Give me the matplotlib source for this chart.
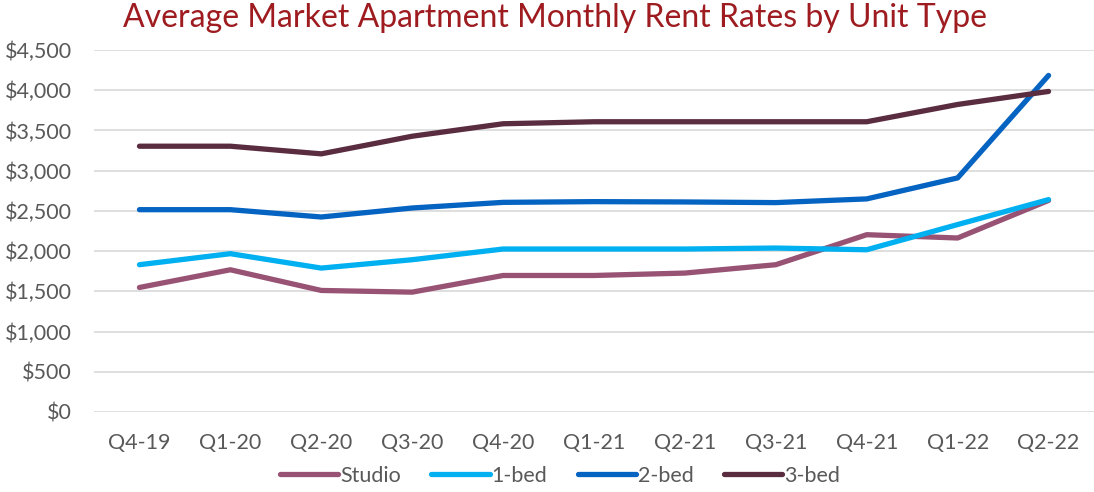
import matplotlib
matplotlib.use("Agg")
import matplotlib.pyplot as plt
from matplotlib.ticker import FuncFormatter

plt.rcParams['font.family'] = ['Lato', 'DejaVu Sans']

quarters = ['Q4-19', 'Q1-20', 'Q2-20', 'Q3-20', 'Q4-20', 'Q1-21',
            'Q2-21', 'Q3-21', 'Q4-21', 'Q1-22', 'Q2-22']
studio = [1548, 1768, 1511, 1490, 1697, 1697, 1727, 1831, 2204, 2163, 2630]
one_bed = [1831, 1968, 1789, 1893, 2026, 2026, 2026, 2038, 2017, 2330, 2640]
two_bed = [2515, 2515, 2424, 2536, 2606, 2615, 2611, 2603, 2649, 2910, 4184]
three_bed = [3304, 3304, 3209, 3428, 3583, 3608, 3608, 3608, 3608, 3823, 3985]

series = [('Studio', studio, '#975274'),
          ('1-bed', one_bed, '#00B0F0'),
          ('2-bed', two_bed, '#0563C1'),
          ('3-bed', three_bed, '#5A2C40')]

fig = plt.figure(figsize=(10.94, 4.92), dpi=100)
ax = fig.add_axes([94 / 1094, 1 - 412 / 492, 1000 / 1094, 362 / 492])

x = list(range(len(quarters)))
for name, vals, col in series:
    ax.plot(x, vals, color=col, lw=3.8, label=name, solid_capstyle='round')

ax.set_xlim(-0.5, len(quarters) - 0.5)
ax.set_ylim(0, 4500)
ax.set_yticks(range(0, 4501, 500))
ax.yaxis.set_major_formatter(FuncFormatter(lambda v, p: '${:,.0f}'.format(v)))
ax.set_xticks(x)
ax.set_xticklabels(quarters)
ax.grid(axis='y', color='#D9D9D9', lw=1.2)
ax.set_axisbelow(True)
for s in ax.spines.values():
    s.set_visible(False)
ax.tick_params(length=0, labelsize=15.5, colors='#595959')
ax.tick_params(axis='y', pad=16)
ax.tick_params(axis='x', pad=15)

fig.text(0.507, 1 - 18 / 492, 'Average Market Apartment Monthly Rent Rates by Unit Type',
         ha='center', va='center', fontsize=23, color='#9E1B20')

leg = fig.legend(loc='center', bbox_to_anchor=(0.512, 1 - 476 / 492), ncol=4,
                 frameon=False, fontsize=15.5, handlelength=2.7, handletextpad=0.1,
                 columnspacing=1.4)
for t in leg.get_texts():
    t.set_color('#595959')

fig.savefig('out.png', dpi=100)
